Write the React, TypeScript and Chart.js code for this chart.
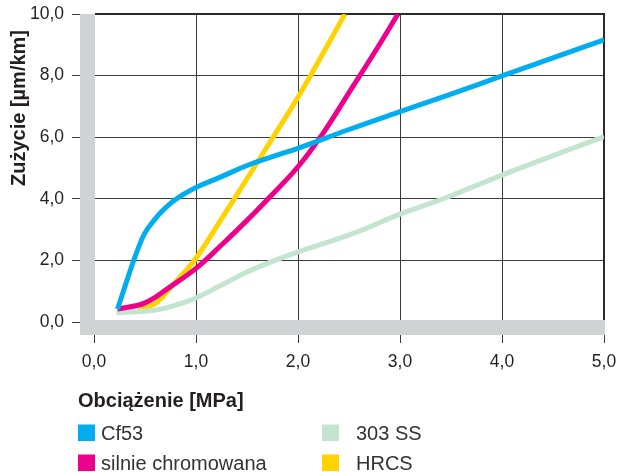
import React, { useEffect, useRef } from 'react';
import { Chart, registerables } from 'chart.js';

Chart.register(...registerables);

// ---- data ----
const xTickValues = [0, 1, 2, 3, 4, 5];
const xTickLabels = ['0,0', '1,0', '2,0', '3,0', '4,0', '5,0'];
const yTickValues = [0, 2, 4, 6, 8, 10];
const yTickLabels = ['0,0', '2,0', '4,0', '6,0', '8,0', '10,0'];

const xAxisTitle = 'Obciążenie [MPa]';
const yAxisTitle = 'Zużycie [µm/km]';

const seriesLabels = ['Cf53', 'silnie chromowana', '303 SS', 'HRCS'];
const seriesColors = ['#00AEEF', '#EC008C', '#C3E4CE', '#FFD200'];

const cf53: [number, number][] = [
  [0.23, 0.42], [0.47, 2.7], [0.6, 3.35], [0.75, 3.85], [0.88, 4.15], [1.0, 4.37],
  [1.25, 4.72], [1.5, 5.08], [1.75, 5.37], [2.0, 5.64], [2.5, 6.25], [3.0, 6.83],
  [3.5, 7.4], [4.0, 7.99], [5.0, 9.16],
];
const silnieChromowana: [number, number][] = [
  [0.23, 0.42], [0.5, 0.62], [0.75, 1.15], [1.0, 1.74], [1.25, 2.5], [1.5, 3.3],
  [1.75, 4.15], [2.0, 5.04], [2.25, 6.15], [2.5, 7.45], [2.75, 8.75], [2.98, 10.0],
];
const ss303: [number, number][] = [
  [0.22, 0.3], [0.6, 0.39], [0.85, 0.6], [1.0, 0.78], [1.25, 1.2], [1.5, 1.62],
  [1.75, 1.97], [2.0, 2.28], [2.3, 2.6], [2.6, 2.95], [3.0, 3.5], [3.5, 4.1],
  [4.0, 4.77], [4.5, 5.4], [5.0, 6.02],
];
const hrcs: [number, number][] = [
  [0.43, 0.4], [0.6, 0.6], [0.75, 1.12], [0.87, 1.55], [1.0, 2.07], [1.25, 3.35],
  [1.5, 4.65], [1.75, 5.97], [2.0, 7.3], [2.25, 8.75], [2.46, 10.0],
];

const seriesData = [cf53, silnieChromowana, ss303, hrcs];

const FONT = '"Liberation Sans", Arial, sans-serif';
const TEXT = '#231F20';
const GRID = '#3a3a3a';
const BAND = '#D1D2D4';

const decorPlugin = {
  id: 'decor',
  beforeDatasetsDraw(chart: any) {
    const { ctx, scales } = chart;
    const xs = scales.x;
    const ys = scales.y;
    const x0 = xs.getPixelForValue(0);
    const x5 = xs.getPixelForValue(5);
    const y0 = ys.getPixelForValue(0);
    const y10 = ys.getPixelForValue(10);
    ctx.save();
    ctx.fillStyle = BAND;
    ctx.fillRect(x0 - 14, y10, 15, y0 - y10 + 13);
    ctx.fillRect(x0 - 14, y0 - 2, x5 - x0 + 15, 15);
    ctx.strokeStyle = '#2a2a2a';
    ctx.lineWidth = 2;
    ctx.beginPath();
    ctx.moveTo(x0 + 1, y10);
    ctx.lineTo(x5, y10);
    ctx.lineTo(x5, y0 - 2);
    ctx.stroke();
    ctx.restore();
  },
  afterDraw(chart: any) {
    const { ctx } = chart;
    ctx.save();
    ctx.fillStyle = TEXT;
    ctx.font = `bold 20px ${FONT}`;
    ctx.textAlign = 'center';
    ctx.textBaseline = 'alphabetic';
    ctx.translate(25, 108);
    ctx.rotate(-Math.PI / 2);
    ctx.fillText(yAxisTitle, 0, 0);
    ctx.restore();

    ctx.save();
    ctx.fillStyle = TEXT;
    ctx.font = `bold 20px ${FONT}`;
    ctx.textAlign = 'left';
    ctx.textBaseline = 'alphabetic';
    ctx.fillText(xAxisTitle, 78, 407);

    const colBox = [78, 322];
    const colText = [101, 356];
    const rowTop = [424.5, 454.5];
    const rowBase = [440, 469.5];
    ctx.font = `20px ${FONT}`;
    chart.data.datasets.forEach((ds: any, i: number) => {
      const col = Math.floor(i / 2);
      const row = i % 2;
      ctx.fillStyle = ds.borderColor;
      ctx.fillRect(colBox[col], rowTop[row], 17, 16.5);
      ctx.fillStyle = '#333';
      ctx.fillText(ds.label, colText[col], rowBase[row]);
    });
    ctx.restore();
  },
};

export default function App() {
  const ref = useRef<HTMLCanvasElement | null>(null);

  useEffect(() => {
    document.body.style.margin = '0';
    const canvas = ref.current;
    if (!canvas) return;
    const chart = new Chart(canvas, {
      type: 'line',
      data: {
        datasets: seriesData.map((pts, i) => ({
          label: seriesLabels[i],
          data: pts.map(([x, y]) => ({ x, y })),
          borderColor: seriesColors[i],
          backgroundColor: seriesColors[i],
          borderWidth: 5,
          pointRadius: 0,
          tension: 0.4,
          fill: false,
        })),
      },
      options: {
        responsive: false,
        animation: false,
        devicePixelRatio: 1,
        layout: { padding: { left: 0, top: 14, right: 18, bottom: 0 } },
        plugins: {
          legend: { display: false },
          tooltip: { enabled: false },
        },
        scales: {
          x: {
            type: 'linear',
            min: 0,
            max: 5,
            afterFit(scale: any) {
              scale.height = 150;
              scale.paddingLeft = 0;
              scale.paddingRight = 0;
            },
            afterBuildTicks(scale: any) {
              scale.ticks = xTickValues.map((v) => ({ value: v }));
            },
            ticks: {
              padding: 9,
              color: TEXT,
              font: { family: FONT, size: 17.5 },
              maxRotation: 0,
              callback: (v: any) => xTickLabels[xTickValues.indexOf(Number(v))] ?? '',
            },
            grid: { color: GRID, lineWidth: 1, tickLength: 21, tickColor: GRID },
            border: { display: false },
          },
          y: {
            type: 'linear',
            min: 0,
            max: 10,
            afterFit(scale: any) {
              scale.width = 94;
              scale.paddingTop = 0;
              scale.paddingBottom = 0;
            },
            afterBuildTicks(scale: any) {
              scale.ticks = yTickValues.map((v) => ({ value: v }));
            },
            ticks: {
              padding: 8,
              color: TEXT,
              font: { family: FONT, size: 17.5 },
              callback: (v: any) => yTickLabels[yTickValues.indexOf(Number(v))] ?? '',
            },
            grid: { color: GRID, lineWidth: 1, tickLength: 22, tickColor: GRID },
            border: { display: false },
          },
        },
      },
      plugins: [decorPlugin],
    });
    return () => chart.destroy();
  }, []);

  return (
    <div style={{ width: 622, height: 472 }}>
      <canvas ref={ref} width={622} height={472} style={{ display: 'block' }} />
    </div>
  );
}
